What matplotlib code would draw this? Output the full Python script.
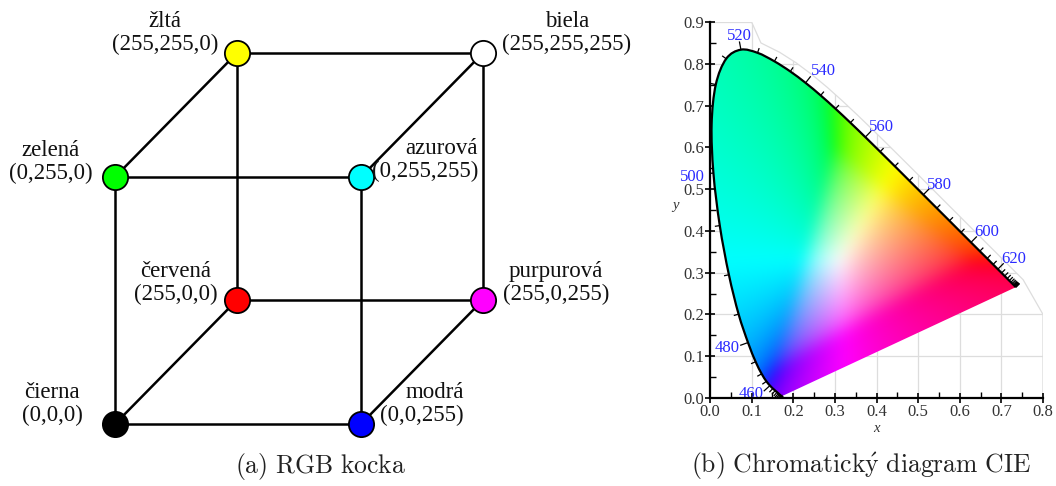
import numpy as np
import matplotlib
matplotlib.use("Agg")
import matplotlib.pyplot as plt
from matplotlib.patches import Polygon, PathPatch
from matplotlib.path import Path
from matplotlib.collections import LineCollection
from matplotlib.ticker import MultipleLocator, FormatStrFormatter

# --- RGB cube -------------------------------------------------------------
names = ["čierna", "modrá", "zelená", "azurová", "červená", "purpurová", "žltá", "biela"]
rgb = [(0, 0, 0), (0, 0, 255), (0, 255, 0), (0, 255, 255),
       (255, 0, 0), (255, 0, 255), (255, 255, 0), (255, 255, 255)]
# label placement relative to the node (pixels): dx, dy, alignment
lab_pos = {"čierna": (-63, -20, "center"), "modrá": (103, -20, "right"),
           "zelená": (-64, -15, "center"), "azurová": (117, -17, "right"),
           "červená": (-61, -17, "center"), "purpurová": (73, -17, "center"),
           "žltá": (-72, -20, "center"), "biela": (84, -20, "center")}

# --- CIE 1931 spectral locus (2 deg observer) -----------------------------
wl = list(range(380, 705, 5))
cie_x = [0.1741, 0.1740, 0.1738, 0.1736, 0.1733, 0.1730, 0.1726, 0.1721, 0.1714, 0.1703,
         0.1689, 0.1669, 0.1644, 0.1611, 0.1566, 0.1510, 0.1440, 0.1355, 0.1241, 0.1096,
         0.0913, 0.0687, 0.0454, 0.0235, 0.0082, 0.0039, 0.0139, 0.0389, 0.0743, 0.1142,
         0.1547, 0.1929, 0.2296, 0.2658, 0.3016, 0.3373, 0.3731, 0.4087, 0.4441, 0.4788,
         0.5125, 0.5448, 0.5752, 0.6029, 0.6270, 0.6482, 0.6658, 0.6801, 0.6915, 0.7006,
         0.7079, 0.7140, 0.7190, 0.7230, 0.7260, 0.7283, 0.7300, 0.7311, 0.7320, 0.7327,
         0.7334, 0.7340, 0.7344, 0.7346, 0.7347]
cie_y = [0.0050, 0.0050, 0.0049, 0.0049, 0.0048, 0.0048, 0.0048, 0.0048, 0.0051, 0.0058,
         0.0069, 0.0086, 0.0109, 0.0138, 0.0177, 0.0227, 0.0297, 0.0399, 0.0578, 0.0868,
         0.1327, 0.2007, 0.2950, 0.4127, 0.5384, 0.6548, 0.7502, 0.8120, 0.8338, 0.8262,
         0.8059, 0.7816, 0.7543, 0.7243, 0.6923, 0.6589, 0.6245, 0.5896, 0.5547, 0.5202,
         0.4866, 0.4544, 0.4242, 0.3965, 0.3725, 0.3514, 0.3340, 0.3197, 0.3083, 0.2993,
         0.2920, 0.2859, 0.2809, 0.2770, 0.2740, 0.2717, 0.2700, 0.2689, 0.2680, 0.2673,
         0.2666, 0.2660, 0.2656, 0.2654, 0.2653]
lab_wl = [460, 480, 500, 520, 540, 560, 580, 600, 620]

plt.rcParams["mathtext.fontset"] = "cm"
serif = ["Liberation Serif", "DejaVu Serif"]

fig = plt.figure(figsize=(10.56, 4.86), dpi=100)

# left panel drawn in pixel coordinates
ax1 = fig.add_axes([0, 0, 1, 1])
ax1.set_xlim(0, 1056)
ax1.set_ylim(486, 0)
ax1.axis("off")

def proj(c):
    r, g, b = c
    return 115 + b / 255 * 246 + r / 255 * 122, 424 - g / 255 * 247 - r / 255 * 124

pts = [proj(c) for c in rgb]
for i in range(8):
    for j in range(i + 1, 8):
        if sum(a != b for a, b in zip(rgb[i], rgb[j])) == 1:
            ax1.plot([pts[i][0], pts[j][0]], [pts[i][1], pts[j][1]], color="black", lw=1.8, zorder=1)

for n, c, p in zip(names, rgb, pts):
    ax1.scatter(p[0], p[1], s=330, color=np.array(c) / 255, edgecolor="black", lw=1.3, zorder=3)
    dx, dy, ha = lab_pos[n]
    ax1.text(p[0] + dx, p[1] + dy, n + "\n(" + ",".join(str(v) for v in c) + ")",
             ha=ha, va="center", multialignment=ha, fontsize=16.5, family=serif,
             color="#111111", linespacing=1.15)

ax1.text(321, 466, r"$\mathrm{(a)\ RGB\ kocka}$", ha="center", va="center", fontsize=18.5, color="#222222")
ax1.text(861, 466, r"$\mathrm{(b)\ Chromatick\acute{y}\ diagram\ CIE}$", ha="center", va="center",
         fontsize=18.5, color="#222222")

# right panel: chromaticity diagram
ax2 = fig.add_axes([710 / 1056, 88 / 486, 333 / 1056, 376 / 486])
ax2.set_xlim(0, 0.8)
ax2.set_ylim(0, 0.9)

locus = np.column_stack([cie_x, cie_y])

# smooth curve through the locus points (Catmull-Rom as cubic Bezier)
verts = [locus[0]]
codes = [Path.MOVETO]
n = len(locus)
for k in range(n - 1):
    p0 = locus[max(k - 1, 0)]
    p1, p2 = locus[k], locus[k + 1]
    p3 = locus[min(k + 2, n - 1)]
    verts += [p1 + (p2 - p0) / 6, p2 - (p3 - p1) / 6, p2]
    codes += [Path.CURVE4] * 3
curve = Path(verts, codes)
closed = Path(verts + [locus[0], locus[0]], codes + [Path.LINETO, Path.CLOSEPOLY])

gx, gy = np.meshgrid(np.linspace(0, 0.8, 400), np.linspace(0.002, 0.9, 450))
XYZ = np.stack([gx / gy, np.ones_like(gx), (1 - gx - gy) / gy])
M = np.array([[3.2406, -1.5372, -0.4986],
              [-0.9689, 1.8758, 0.0415],
              [0.0557, -0.2040, 1.0570]])
lin = np.einsum("ij,jkl->ikl", M, XYZ)
lin = lin - np.minimum(lin.min(axis=0, keepdims=True), 0)
lin = lin / (lin.max(axis=0, keepdims=True) + 1e-9)
srgb = np.where(lin <= 0.0031308, 12.92 * lin, 1.055 * np.abs(lin) ** (1 / 2.4) - 0.055)

def blur(a, s):
    r = int(3 * s)
    k = np.exp(-0.5 * (np.arange(-r, r + 1) / s) ** 2)
    k /= k.sum()
    a = np.pad(a, ((r, r), (r, r)), mode="edge")
    a = np.apply_along_axis(lambda v: np.convolve(v, k, mode="valid"), 0, a)
    return np.apply_along_axis(lambda v: np.convolve(v, k, mode="valid"), 1, a)

img = np.clip(np.stack([blur(ch, 9) for ch in srgb], axis=-1), 0, 1)

clip = PathPatch(closed, transform=ax2.transData, facecolor="none")
im = ax2.imshow(img, extent=(0, 0.8, 0.002, 0.9), origin="lower", aspect="auto",
                interpolation="bilinear", zorder=2)
im.set_clip_path(clip)

# outward normals of the locus
tang = np.gradient(locus, axis=0)
tang = tang / np.linalg.norm(tang, axis=1, keepdims=True)
norm = np.column_stack([-tang[:, 1], tang[:, 0]])

# grid region around the locus
i525 = wl.index(525)
outer = locus[i525:] + 0.025 * norm[i525:]
region = np.vstack([[(0, 0), (0, 0.9), (0.1, 0.9)], outer, [(0.8, 0.2), (0.8, 0)]])
reg_patch = Polygon(region, closed=True, transform=ax2.transData, facecolor="none",
                    edgecolor="#dddddd", lw=0.9, zorder=0.5)
ax2.add_patch(reg_patch)
ax2.xaxis.set_major_locator(MultipleLocator(0.1))
ax2.yaxis.set_major_locator(MultipleLocator(0.1))
ax2.xaxis.set_minor_locator(MultipleLocator(0.05))
ax2.yaxis.set_minor_locator(MultipleLocator(0.05))
ax2.grid(True, color="#dddddd", lw=0.9)
ax2.set_axisbelow(True)
for gl in ax2.get_xgridlines() + ax2.get_ygridlines():
    gl.set_clip_path(reg_patch)

ax2.add_patch(PathPatch(curve, facecolor="none", edgecolor="black", lw=1.6, zorder=4))

segs = []
for k, w in enumerate(wl):
    L = 0.02 if w in lab_wl else 0.012
    segs.append([locus[k], locus[k] + L * norm[k]])
ax2.add_collection(LineCollection(segs, colors="black", lw=0.9, zorder=4))

for w in lab_wl:
    k = wl.index(w)
    nx, ny = norm[k]
    ha = "right" if nx < -0.35 else ("left" if nx > 0.35 else "center")
    va = "bottom" if ny > 0.75 else "center"
    if nx > 0.35 and va == "center":
        off = (nx * 0.5 - 2, 3)
    else:
        off = (nx * 0.5, ny * 0.5 - 2)
    ax2.annotate(str(w), locus[k] + 0.02 * norm[k], xytext=off, textcoords="offset points",
                 ha=ha, va=va, fontsize=12, family=serif, color="#2a2aff", zorder=5,
                 annotation_clip=False)

ax2.xaxis.set_major_formatter(FormatStrFormatter("%.1f"))
ax2.yaxis.set_major_formatter(FormatStrFormatter("%.1f"))
for s in ["top", "right"]:
    ax2.spines[s].set_visible(False)
for s in ["left", "bottom"]:
    ax2.spines[s].set_linewidth(1.6)
    ax2.spines[s].set_zorder(6)
ax2.tick_params(which="major", direction="inout", length=7, width=1.2, labelsize=12,
                labelcolor="#333333", pad=1)
ax2.tick_params(which="minor", direction="in", length=4, width=1.0)
for t in ax2.get_xticklabels() + ax2.get_yticklabels():
    t.set_family(serif)
ax2.set_xlabel("x", style="italic", fontsize=10.5, family=serif, color="#333333")
ax2.set_ylabel("y", style="italic", fontsize=10.5, family=serif, color="#333333", rotation=0)
ax2.xaxis.set_label_coords(0.5, -0.065)
ax2.yaxis.set_label_coords(-0.105, 0.495)

fig.savefig("out.png", dpi=100)
